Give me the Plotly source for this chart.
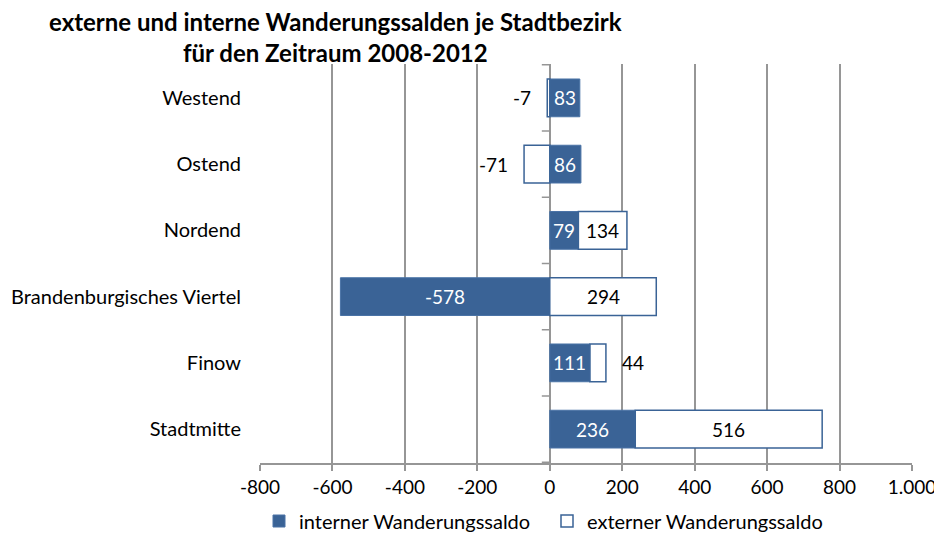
import plotly.graph_objects as go

categories = ["Westend", "Ostend", "Nordend", "Brandenburgisches Viertel", "Finow", "Stadtmitte"]
interner = [83, 86, 79, -578, 111, 236]
externer = [-7, -71, 134, 294, 44, 516]
tick_vals = [-800, -600, -400, -200, 0, 200, 400, 600, 800, 1000]
tick_text = ["-800", "-600", "-400", "-200", "0", "200", "400", "600", "800", "1.000"]

BLUE = "#3A6396"
GRID = "#969696"
FONT = "Lato"
FS = 19

# page body has an 8px margin; compensate so plot area lands at 260..912 x 64..463
OFF = 8
W, H = 942 - OFF, 534 - OFF
L, R, T, B = 260 - OFF, 30, 64 - OFF, 71
PW, PH = W - L - R, H - T - B


def px_x(px):  # page pixel -> paper x
    return (px - 260) / PW


def px_y(py):  # page pixel -> paper y
    return (463 - py) / PH


fig = go.Figure()
fig.add_trace(go.Bar(
    y=categories, x=interner, orientation="h", name="interner Wanderungssaldo",
    marker=dict(color=BLUE, line=dict(color="#4A73A6", width=1)), width=0.57,
))
fig.add_trace(go.Bar(
    y=categories, x=externer, orientation="h", name="externer Wanderungssaldo",
    marker=dict(color="white", line=dict(color=BLUE, width=1.5)), width=0.57,
))

ann = []
for c, vi, ve in zip(categories, interner, externer):
    ann.append(dict(x=vi / 2, y=c, xref="x", yref="y", text=str(vi), showarrow=False,
                    font=dict(family=FONT, size=FS, color="white")))
    base = vi if (vi > 0) == (ve > 0) else 0
    end = base + ve
    if abs(ve) < 80:
        if ve < 0:
            ann.append(dict(x=end, y=c, xref="x", yref="y", text=str(ve), showarrow=False,
                            xanchor="right", xshift=-14, font=dict(family=FONT, size=FS, color="black")))
        else:
            ann.append(dict(x=end, y=c, xref="x", yref="y", text=str(ve), showarrow=False,
                            xanchor="left", xshift=14, font=dict(family=FONT, size=FS, color="black")))
    else:
        ann.append(dict(x=base + ve / 2, y=c, xref="x", yref="y", text=str(ve), showarrow=False,
                        font=dict(family=FONT, size=FS, color="black")))

ann.append(dict(x=px_x(335), y=px_y(37), xref="paper", yref="paper", showarrow=False,
                xanchor="center", yanchor="middle",
                text="<b>externe und interne Wanderungssalden je Stadtbezirk</b><br><b>für den Zeitraum 2008-2012</b>",
                font=dict(family=FONT, size=24, color="black"), align="center"))

shapes = []
for i in range(len(categories) + 1):
    shapes.append(dict(type="line", xref="x", yref="y", x0=-22, x1=0, y0=i - 0.5, y1=i - 0.5,
                       line=dict(color=GRID, width=1.5)))

fig.update_layout(
    width=W, height=H,
    margin=dict(l=L, r=R, t=T, b=B, autoexpand=False),
    barmode="relative",
    plot_bgcolor="white", paper_bgcolor="white",
    font=dict(family=FONT, size=FS, color="black"),
    xaxis=dict(range=[-800, 1000], tickvals=tick_vals, ticktext=tick_text, automargin=False,
               showgrid=True, gridcolor=GRID, gridwidth=1.5,
               zeroline=True, zerolinecolor=GRID, zerolinewidth=2,
               showline=True, linecolor=GRID, linewidth=1.5,
               ticks="outside", ticklen=6, tickcolor=GRID, tickwidth=1.5,
               tickfont=dict(family=FONT, size=FS)),
    yaxis=dict(categoryorder="array", categoryarray=categories, autorange="reversed", automargin=False,
               showgrid=False, showline=False, ticks="", ticklabelstandoff=18,
               tickfont=dict(family=FONT, size=20)),
    legend=dict(orientation="h", x=px_x(547), xanchor="center", y=px_y(521), yanchor="middle",
                font=dict(family=FONT, size=20), traceorder="normal", entrywidth=243),
    showlegend=True,
    annotations=ann,
    shapes=shapes,
)

fig.write_html("out.html")
